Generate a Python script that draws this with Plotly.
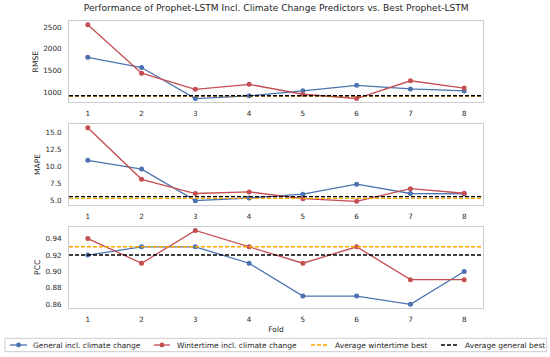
import plotly.graph_objects as go
from plotly.subplots import make_subplots

# ---------------- data ----------------
folds = [1, 2, 3, 4, 5, 6, 7, 8]
metrics = ["RMSE", "MAPE", "PCC"]

rmse_general = [1805, 1570, 855, 920, 1035, 1160, 1078, 1032]
rmse_winter = [2555, 1441, 1068, 1183, 955, 857, 1265, 1098]

mape_general = [10.85, 9.55, 4.91, 5.30, 5.86, 7.34, 5.96, 5.90]
mape_winter = [15.65, 8.05, 5.96, 6.20, 5.20, 4.81, 6.67, 6.00]

pcc_general = [0.92, 0.93, 0.93, 0.91, 0.87, 0.87, 0.86, 0.90]
pcc_winter = [0.94, 0.91, 0.95, 0.93, 0.91, 0.93, 0.89, 0.89]

avg_winter_best = [912, 5.25, 0.93]
avg_general_best = [920, 5.50, 0.92]

series_names = ["General incl. climate change", "Wintertime incl. climate change",
                "Average wintertime best", "Average general best"]
title_text = "Performance of Prophet-LSTM Incl. Climate Change Predictors vs. Best Prophet-LSTM"

# ---------------- style ----------------
W, H = 550, 357
ML, MR, MT, MB = 69, 67, 21, 49
PW, PH = W - ML - MR, H - MT - MB
BLUE = "#4C72B0"
RED = "#C44E52"
ORANGE = "#FFA500"
BLACK = "#000000"
TXT = "#262626"
FRAME = "#cccccc"
FONT = "DejaVu Sans"


def px(x):
    return (x - ML) / PW


def py(y):
    return (H - MB - y) / PH


general = [rmse_general, mape_general, pcc_general]
winter = [rmse_winter, mape_winter, pcc_winter]

fig = make_subplots(rows=3, cols=1)

domains = [[py(102.3), 1.0], [py(205), py(124)], [0.0, py(226.7)]]
tick_specs = [dict(tick0=1000, dtick=500, tickformat="d"),
              dict(tick0=5, dtick=2.5, tickformat=".1f"),
              dict(tick0=0.86, dtick=0.02, tickformat=".2f")]

for i in range(3):
    r = i + 1
    fig.add_trace(go.Scatter(x=folds, y=general[i], mode="lines+markers",
                             line=dict(color=BLUE, width=1.3),
                             marker=dict(color=BLUE, size=5),
                             name=series_names[0], showlegend=False), row=r, col=1)
    fig.add_trace(go.Scatter(x=folds, y=winter[i], mode="lines+markers",
                             line=dict(color=RED, width=1.3),
                             marker=dict(color=RED, size=5),
                             name=series_names[1], showlegend=False), row=r, col=1)
    xref = "x domain" if r == 1 else f"x{r} domain"
    yref = "y" if r == 1 else f"y{r}"
    fig.add_shape(type="line", xref=xref, yref=yref, x0=0, x1=1,
                  y0=avg_winter_best[i], y1=avg_winter_best[i],
                  line=dict(color=ORANGE, width=1.4, dash="4px,2px"))
    fig.add_shape(type="line", xref=xref, yref=yref, x0=0, x1=1,
                  y0=avg_general_best[i], y1=avg_general_best[i],
                  line=dict(color=BLACK, width=1.4, dash="4px,2px"))

    vals = general[i] + winter[i]
    lo, hi = min(vals), max(vals)
    pad = (hi - lo) * 0.05
    fig.update_yaxes(row=r, col=1, domain=domains[i], range=[lo - pad, hi + pad],
                     showgrid=False, zeroline=False, showline=True, mirror=True,
                     linecolor=FRAME, linewidth=1, ticks="", ticklabelstandoff=5,
                     tickfont=dict(family=FONT, size=7.2, color=TXT),
                     title=dict(text=metrics[i], standoff=3,
                                font=dict(family=FONT, size=7.6, color=TXT)),
                     **tick_specs[i])
    fig.update_xaxes(row=r, col=1, range=[0.65, 8.35], tickmode="array",
                     tickvals=folds, ticktext=[str(f) for f in folds],
                     showgrid=False, zeroline=False, showline=True, mirror=True,
                     linecolor=FRAME, linewidth=1, ticks="", ticklabelstandoff=4,
                     tickfont=dict(family=FONT, size=7.2, color=TXT))

fig.update_xaxes(row=3, col=1, title=dict(text="Fold", standoff=4,
                                          font=dict(family=FONT, size=7.6, color=TXT)))

# ---------------- manual legend ----------------
leg_y = 345
fig.add_shape(type="rect", xref="paper", yref="paper",
              x0=px(5), x1=px(546.7), y0=py(351.7), y1=py(338.3),
              line=dict(color=FRAME, width=1), fillcolor="white", layer="below")
legend_items = [
    (series_names[0], BLUE, 10, 27, 30.7, True, "solid"),
    (series_names[1], RED, 154, 170, 175, True, "solid"),
    (series_names[2], ORANGE, 311, 327, 333, False, "4px,2px"),
    (series_names[3], BLACK, 441, 457, 463, False, "4px,2px"),
]
for name, col, x0, x1, xt, mk, dash in legend_items:
    fig.add_shape(type="line", xref="paper", yref="paper",
                  x0=px(x0), x1=px(x1), y0=py(leg_y), y1=py(leg_y),
                  line=dict(color=col, width=1.3 if mk else 1.4, dash=dash))
    if mk:
        xc = (x0 + x1) / 2
        fig.add_shape(type="circle", xref="paper", yref="paper",
                      x0=px(xc - 2.4), x1=px(xc + 2.4), y0=py(leg_y + 2.4), y1=py(leg_y - 2.4),
                      line=dict(color=col, width=0), fillcolor=col)
    fig.add_annotation(xref="paper", yref="paper", x=px(xt), y=py(leg_y),
                       xanchor="left", yanchor="middle", showarrow=False,
                       text=name, font=dict(family=FONT, size=7.5, color=TXT))

fig.update_layout(
    width=W, height=H,
    margin=dict(l=ML, r=MR, t=MT, b=MB),
    paper_bgcolor="white", plot_bgcolor="white",
    showlegend=False,
    title=dict(text=title_text, x=px(276.3), xref="paper", xanchor="center",
               y=1 - 7.5 / H, yref="container", yanchor="middle",
               font=dict(family=FONT, size=9.1, color=TXT)),
    font=dict(family=FONT, color=TXT),
)

fig.write_html("out.html",
               config={"displayModeBar": False},
               post_script="document.body.style.margin='0';"
                           "document.documentElement.style.overflow='hidden';")
